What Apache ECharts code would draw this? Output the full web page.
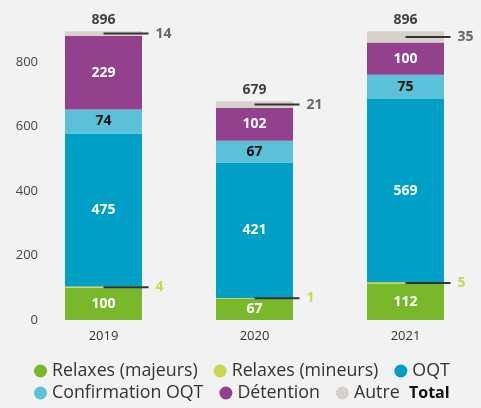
<!DOCTYPE html>
<html><head><meta charset="utf-8">
<script src="https://cdn.jsdelivr.net/npm/echarts@6/dist/echarts.min.js"></script>
<style>html,body{margin:0;padding:0;background:#f2f2f2;}#c{width:481px;height:408px;}</style>
</head><body><div id="c"></div>
<script>
const categories = ['2019', '2020', '2021'];
const relaxesMajeurs = [100, 67, 112];
const relaxesMineurs = [4, 1, 5];
const oqt = [475, 421, 569];
const confirmationOqt = [74, 67, 75];
const detention = [229, 102, 100];
const autre = [14, 21, 35];
const totals = [896, 679, 896];
const yTicks = [0, 200, 400, 600, 800];

const FONT = 'Open Sans';
const chart = echarts.init(document.getElementById('c'));

function inner(color) {
  return {show: true, position: 'inside', color: color, fontFamily: FONT, fontWeight: 'bold', fontSize: 14};
}
function side(color) {
  return {
    show: true, position: ['50%', '50%'], align: 'left', verticalAlign: 'middle',
    formatter: p => '{l|}{n|' + p.value + '}',
    rich: {
      l: {width: 45, height: 2, backgroundColor: '#333', verticalAlign: 'middle'},
      n: {color: color, fontFamily: FONT, fontWeight: 'bold', fontSize: 14, padding: [0, 0, 0, 7], verticalAlign: 'middle'}
    }
  };
}
function bar(name, data, color, label) {
  return {name, type: 'bar', stack: 'a', data, barWidth: 77, itemStyle: {color}, label, emphasis: {disabled: true}};
}
const legendText = {fontFamily: FONT, fontSize: 17.8, color: '#333'};
const legendBase = {itemWidth: 13, itemHeight: 13, itemGap: 16, textStyle: legendText, padding: 0};
chart.setOption({
  backgroundColor: '#f2f2f2',
  animation: false,
  grid: {left: 28, right: -5, top: 30, bottom: 88},
  xAxis: {type: 'category', data: categories, axisLine: {show: false}, axisTick: {show: false},
    axisLabel: {fontFamily: FONT, fontSize: 13, color: '#333', margin: 10}},
  yAxis: {type: 'value', min: 0, max: 900, interval: 200, splitLine: {show: false},
    axisLabel: {fontFamily: FONT, fontSize: 13, color: '#444', margin: -10, showMaxLabel: false,
      formatter: v => yTicks.includes(v) ? String(v) : ''}},
  legend: [
    Object.assign({top: 362, left: 34,
      data: [{name: 'Relaxes (majeurs)', icon: 'circle'}, {name: 'Relaxes (mineurs)', icon: 'circle'}, {name: 'OQT', icon: 'circle'}]}, legendBase),
    Object.assign({top: 384, left: 34,
      data: [{name: 'Confirmation OQT', icon: 'circle'}, {name: 'Détention', icon: 'circle'}, {name: 'Autre', icon: 'circle'}]}, legendBase),
    Object.assign({}, legendBase, {top: 385, left: 391, itemWidth: 13,
      data: [{name: 'Total', icon: 'none'}], textStyle: {fontFamily: FONT, fontSize: 16, fontWeight: 'bold', color: '#111'}})
  ],
  series: [
    bar('Relaxes (majeurs)', relaxesMajeurs, '#79b82b', inner('#fff')),
    bar('Relaxes (mineurs)', relaxesMineurs, '#cbd54f', side('#cbd54f')),
    bar('OQT', oqt, '#009fc6', inner('#fff')),
    bar('Confirmation OQT', confirmationOqt, '#5bc1d9', inner('#111')),
    bar('Détention', detention, '#94418d', inner('#fff')),
    bar('Autre', autre, '#d6d1ca', side('#666')),
    {name: 'Total', type: 'scatter', data: totals, symbolSize: 1, itemStyle: {color: 'rgba(0,0,0,0)'},
      label: {show: true, position: 'top', distance: 4, color: '#111', fontFamily: FONT, fontWeight: 'bold', fontSize: 14}}
  ]
});
</script></body></html>
